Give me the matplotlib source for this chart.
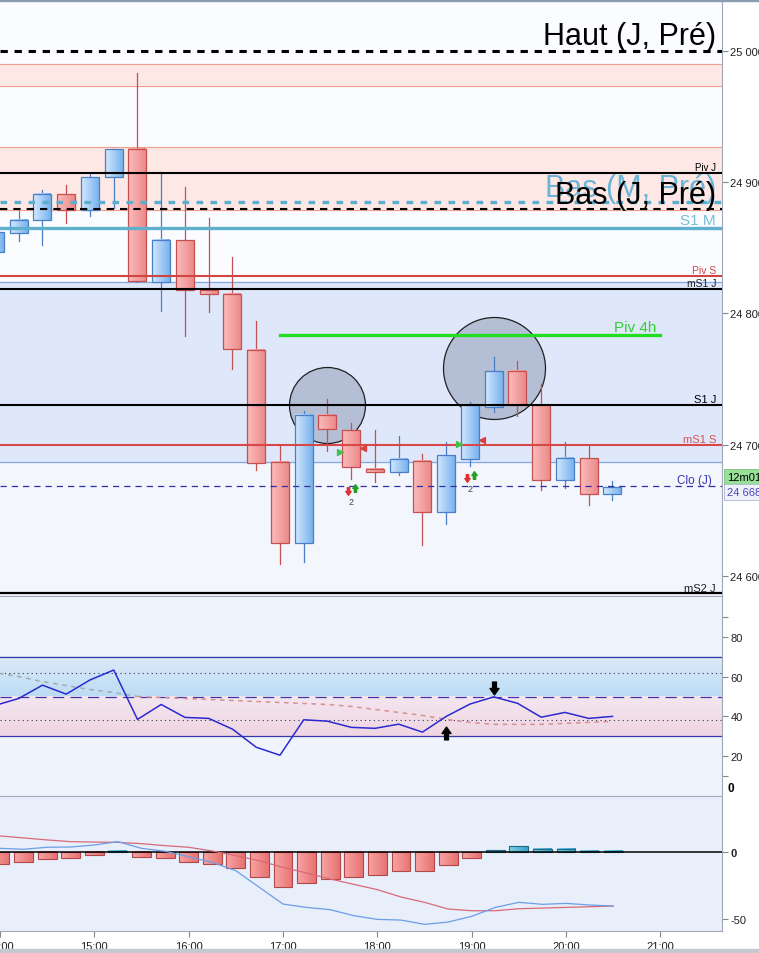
import matplotlib
matplotlib.use("Agg")
import matplotlib.pyplot as plt
import numpy as np
from matplotlib.colors import LinearSegmentedColormap
from matplotlib.patches import Rectangle
from matplotlib.path import Path

plt.rcParams['font.family'] = ['Liberation Sans', 'DejaVu Sans']

# ---- data ----
bar_times = ['14:00', '14:15', '14:30', '14:45', '15:00', '15:15', '15:30', '15:45',
             '16:00', '16:15', '16:30', '16:45', '17:00', '17:15', '17:30', '17:45',
             '18:00', '18:15', '18:30', '18:45', '19:00', '19:15', '19:30', '19:45',
             '20:00', '20:15', '20:30']
opens = [24847, 24861, 24871, 24891, 24879, 24904, 24925, 24824, 24856, 24818, 24815, 24772,
         24687, 24625, 24723, 24711, 24682, 24679, 24688, 24649, 24689, 24729, 24756, 24730,
         24673, 24690, 24663]
highs = [24866, 24878, 24894, 24898, 24906, 24925, 24983, 24908, 24896, 24873, 24843, 24794,
         24700, 24726, 24735, 24717, 24711, 24707, 24693, 24702, 24733, 24767, 24764, 24746,
         24702, 24700, 24672.5]
lows = [24842, 24855, 24852, 24869, 24874, 24880, 24824, 24802, 24783, 24801, 24758, 24681,
        24609, 24611, 24695, 24674, 24672, 24677, 24624, 24640, 24684, 24725, 24722, 24666,
        24667, 24654, 24658]
closes = [24862, 24871, 24891, 24879, 24904, 24925, 24824.5, 24856, 24818, 24815, 24773, 24686,
          24625, 24723, 24712, 24683, 24679, 24689, 24649, 24692, 24730, 24756, 24730, 24673,
          24690, 24663, 24668]

rsi = [45.5, 49, 55.7, 51.2, 58.3, 63.3, 38.5, 46, 39.5, 39, 33.6, 24.5, 20.5, 38.3, 37.6,
       34.5, 34, 36.1, 32.1, 40, 46.2, 49.8, 46.6, 39.6, 42, 39, 40]
rsi_avg = [62, 60, 57.5, 55.5, 53.5, 52, 50, 49.5, 49, 48.5, 48, 47.5, 47, 46.5, 46, 45,
           43.5, 42, 40.5, 38.5, 37, 36, 36, 36, 36.5, 37, 37.5]

macd_hist = [-8.8, -7.5, -5.3, -4.5, -2.3, 0.8, -3.8, -4.5, -7.5, -9, -12, -18.8, -26.3,
             -23.3, -20.3, -18.8, -17.3, -14.3, -14.3, -9.8, -4.5, 1.5, 4.5, 2.3, 2.3, 0.8, 0.8]
macd_line = [3.0, 2.3, 3.8, 4, 5.5, 8, 3, 0.8, -3.3, -7.5, -13.8, -26.3, -38.8, -41.3, -43,
             -47.5, -50.3, -50.8, -54, -52.3, -48, -41.3, -37.5, -39, -38.3, -39.5, -40.3]
macd_signal = [12.3, 10.8, 9.3, 8, 7.7, 7.5, 6.5, 5, 3.8, 1, -2.5, -6.3, -11.3, -15.5, -20,
               -24, -28, -33.5, -37.5, -42.5, -43.8, -43.8, -42.3, -41.8, -41.3, -40.8, -40.3]

# horizontal levels
haut_j = 25000
piv_j = 24907
bas_m = 24885
bas_j = 24879.3
s1_m = 24865.3
piv_s = 24828.3
ms1_j = 24819
piv_4h = 24783.4
s1_j = 24730.6
ms1_s = 24700.2
clo_j = 24668.5
ms2_j = 24587.3
pink_zones = [(24972.9, 24989.6), (24878.5, 24926.5)]
blue_zone = (24686.8, 24823.7)
piv_4h_span = ('17:00', '21:00')

circles = [('17:30', 24730.4, 76), ('19:15', 24758.5, 102)]   # time, price, diameter px
rsi_down = ('19:15', 54.3)
rsi_up = ('18:45', 31.5)

price_ticks = [24600, 24700, 24800, 24900, 25000]
hour_ticks = ['14:00', '15:00', '16:00', '17:00', '18:00', '19:00', '20:00', '21:00']


def hours(t):
    h, m = t.split(':')
    return int(h) + int(m) / 60.0


x = np.array([hours(t) for t in bar_times])
W, H = 759, 954
XL = (14.053, 21.653)

fig = plt.figure(figsize=(W / 100, H / 100), dpi=100)
fig.patch.set_facecolor('white')


def px_axes(top, bottom, right=722):
    return fig.add_axes([0, 1 - bottom / H, right / W, (bottom - top) / H])


def grad(ax, x0, x1, y0, y1, c0, c1, vertical=False, z=3):
    cmap = LinearSegmentedColormap.from_list('g', [c0, c1])
    g = np.linspace(0, 1, 64)
    arr = g.reshape(-1, 1) if vertical else g.reshape(1, -1)
    ax.imshow(arr, extent=[x0, x1, y0, y1], aspect='auto', cmap=cmap, origin='lower',
              zorder=z, interpolation='bilinear')


def style(ax):
    for s in ['left', 'top']:
        ax.spines[s].set_visible(False)
    for s in ['right', 'bottom']:
        ax.spines[s].set_color('#a0a8b8')
    ax.yaxis.tick_right()
    ax.tick_params(axis='y', colors='#808890', labelcolor='#202020', length=4, pad=2,
                   labelsize=8)
    ax.set_xlim(*XL)


down_arrow = Path([(-0.3, 1), (0.3, 1), (0.3, 0), (0.7, 0), (0, -1), (-0.7, 0), (-0.3, 0), (-0.3, 1)],
                  [Path.MOVETO] + [Path.LINETO] * 6 + [Path.CLOSEPOLY])
up_arrow = Path(down_arrow.vertices * np.array([1, -1]), down_arrow.codes)

# ---- price panel ----
ax = px_axes(2, 597)
ax.set_facecolor('#fbfcff')
style(ax)
ax.set_xticks([])
ax.axhspan(24000, blue_zone[0], color='#f3f6fd', zorder=0)
ax.axhspan(*blue_zone, color='#dfe8fb', zorder=0)
for lo, hi in pink_zones:
    ax.axhspan(lo, hi, color='#fde8e5', zorder=0.5)
    ax.axhline(lo, color='#f0a090', lw=0.8, zorder=0.6)
    ax.axhline(hi, color='#f0a090', lw=0.8, zorder=0.6)
for yb in blue_zone:
    ax.axhline(yb, color='#84a8e0', lw=0.9, zorder=1)

for t, p, d in circles:
    ax.scatter([hours(t)], [p], s=(d * 0.72) ** 2, facecolor=(0.52, 0.57, 0.67, 0.48),
               edgecolor='#202020', lw=0.9, zorder=2)

bw = 0.189
for xi, o, h, l, c in zip(x, opens, highs, lows, closes):
    up = c >= o
    ec = '#4a7ec6' if up else '#c45050'
    lo, hi = min(o, c), max(o, c)
    ax.plot([xi, xi], [l, h], color=ec, lw=0.9, zorder=3)
    if up:
        grad(ax, xi - bw / 2, xi + bw / 2, lo, hi, '#d4e9fd', '#78b2ee', z=3.1)
    else:
        grad(ax, xi - bw / 2, xi + bw / 2, lo, hi, '#fbbcbc', '#ec8a8a', z=3.1)
    ax.add_patch(Rectangle((xi - bw / 2, lo), bw, hi - lo, fill=False, ec=ec, lw=0.9, zorder=3.2))

ax.axhline(haut_j, color='black', lw=2.2, ls=(0, (2.4, 2.2)), zorder=4)
ax.axhline(piv_j, color='black', lw=1.5, zorder=4)
ax.axhline(bas_m, color='#5aaed0', lw=2.4, ls=(0, (2.0, 2.2)), zorder=4)
ax.axhline(bas_j, color='black', lw=1.5, ls=(0, (3.5, 2.9)), zorder=4)
ax.axhline(s1_m, color='#5fb0cc', lw=2.4, zorder=4)
ax.axhline(piv_s, color='#d04444', lw=1.5, zorder=4)
ax.axhline(ms1_j, color='black', lw=1.5, zorder=4)
ax.plot([hours(piv_4h_span[0]), hours(piv_4h_span[1])], [piv_4h, piv_4h], color='#22dd22',
        lw=2.4, zorder=4)
ax.axhline(s1_j, color='black', lw=1.5, zorder=4)
ax.axhline(ms1_s, color='#d84848', lw=1.5, zorder=4)
ax.axhline(clo_j, color='#3030a0', lw=0.9, ls=(0, (5, 4)), zorder=4)
ax.axhline(ms2_j, color='black', lw=1.6, zorder=4)

# signal markers near bars
for t, yp in [('17:45', 24695.5), ('19:00', 24701.5)]:
    xt = hours(t)
    ax.scatter([xt - 0.115], [yp - 1], marker='>', s=18, color='#48c048', zorder=5)
    ax.scatter([xt + 0.125], [yp + 2.5], marker='<', s=18, color='#d84040', zorder=5)
for t, yp in [('17:45', 24666), ('19:00', 24676)]:
    xt = hours(t)
    ax.scatter([xt - 0.03], [yp - 1], marker=down_arrow, s=30, color='#e03030', zorder=5)
    ax.scatter([xt + 0.04], [yp + 1], marker=up_arrow, s=30, color='#20a020', zorder=5)
    ax.text(xt, yp - 9, '2', fontsize=6.5, color='#404040', ha='center', va='center', zorder=5)

tr = ax.get_yaxis_transform()


def lab(text, y, dy_px, size, color, xr=0.9917, z=6):
    ax.annotate(text, xy=(xr, y), xycoords=tr, xytext=(0, dy_px * 0.72),
                textcoords='offset points', ha='right', va='baseline', fontsize=size,
                color=color, zorder=z)


lab('Haut (J, Pré)', haut_j, 6.7, 22, 'black')
lab('Piv J', piv_j, 3, 7, 'black')
lab('Bas (M, Pré)', bas_m, 6, 22, '#6ab4d6', z=5)
lab('Bas (J, Pré)', bas_j, 6.3, 22, 'black')
lab('S1 M', s1_m, 3.7, 11, '#78bcd8')
lab('Piv S', piv_s, 3.3, 7.5, '#d04848')
lab('mS1 J', ms1_j, 2.4, 7.5, '#202020')
lab('Piv 4h', piv_4h, 4, 11, '#30d030', xr=656 / 722)
lab('S1 J', s1_j, 3, 8, 'black')
lab('mS1 S', ms1_s, 2.4, 8, '#d85050')
lab('Clo (J)', clo_j, 3.3, 8.5, '#3838b0', xr=711.7 / 722)
lab('mS2 J', ms2_j, 1.7, 8, '#202020')

ax.set_yticks(price_ticks)
ax.set_yticklabels([f'{p // 1000} {p % 1000:03d}' for p in price_ticks])
ax.set_ylim(24585, 25037.8)

fig.text(727 / W, 1 - 478 / H, '12m01', fontsize=8, color='black', va='center', ha='left',
         bbox=dict(boxstyle='square,pad=0.25', fc='#98e098', ec='#78c078', lw=0.6))
fig.text(727 / W, 1 - 493 / H, '24 668', fontsize=8, color='#4848c0', va='center', ha='left',
         bbox=dict(boxstyle='square,pad=0.25', fc='#eef0fa', ec='#b0b8d0', lw=0.6))

# ---- RSI panel ----
ar = px_axes(598, 797)
ar.set_facecolor('#eef3fc')
style(ar)
ar.set_xticks([])
grad(ar, XL[0], XL[1], 50, 70, '#bcdcf4', '#dcebf9', vertical=True, z=0.5)
grad(ar, XL[0], XL[1], 30, 50, '#f0d6e2', '#f3e6f0', vertical=True, z=0.5)
ar.axhline(70, color='#3838a8', lw=0.9, zorder=1)
ar.axhline(30, color='#3838a8', lw=0.9, zorder=1)
ar.axhline(50, color='#3838a8', lw=0.9, ls=(0, (9, 5)), zorder=1)
ar.axhline(62, color='#303050', lw=0.8, ls=(0, (1, 3)), zorder=1)
ar.axhline(38, color='#303050', lw=0.8, ls=(0, (1, 3)), zorder=1)
split = bar_times.index('15:30')
ar.plot(x[:split + 1], rsi_avg[:split + 1], color='#a8a8b0', lw=1.1, ls=(0, (3, 3)), zorder=2)
ar.plot(x[split:], rsi_avg[split:], color='#d89090', lw=1.1, ls=(0, (3, 3)), zorder=2)
ar.plot(x, rsi, color='#2a2ad0', lw=1.1, zorder=3)
ar.scatter([hours(rsi_down[0])], [rsi_down[1]], marker=down_arrow, s=85, color='black', zorder=4)
ar.scatter([hours(rsi_up[0])], [rsi_up[1]], marker=up_arrow, s=85, color='black', zorder=4)
ar.set_yticks([10, 20, 40, 60, 80, 90])
ar.set_yticklabels(['', '20', '40', '60', '80', ''])
ar.text(1.0 + 6 / 722, 4, '0', transform=ar.get_yaxis_transform(), fontsize=8.5,
        fontweight='bold', va='center', ha='left')
ar.set_ylim(0, 100)

# ---- MACD panel ----
am = px_axes(798, 932)
am.set_facecolor('#e8eefa')
style(am)
hw = 0.2
for xi, v in zip(x, macd_hist):
    if v >= 0:
        grad(am, xi - hw / 2, xi + hw / 2, 0, v, '#7cd0e6', '#36a2c8', z=2)
        ec = '#1e6a88'
    else:
        grad(am, xi - hw / 2, xi + hw / 2, v, 0, '#f8a4a4', '#e87272', z=2)
        ec = '#b04848'
    am.add_patch(Rectangle((xi - hw / 2, min(0, v)), hw, abs(v), fill=False, ec=ec, lw=0.8,
                           zorder=2.2))
am.axhline(0, color='black', lw=1.1, zorder=3)
am.plot(x, macd_signal, color='#d86a78', lw=0.9, zorder=4)
am.plot(x, macd_line, color='#6c9ee8', lw=0.9, zorder=4)
am.set_yticks([-50, 0])
am.set_yticklabels(['-50', '0'])
am.get_yticklabels()[1].set_fontweight('bold')
am.set_ylim(-59, 41.5)
am.set_xlim(*XL)
am.set_xticks([hours(t) for t in hour_ticks])
am.set_xticklabels(hour_ticks)
am.tick_params(axis='x', colors='#808890', labelcolor='#202020', length=4, pad=3, labelsize=8)

fig.patches.append(Rectangle((0, 1 - 2 / H), 1, 2 / H, transform=fig.transFigure,
                             color='#8a9cb0', zorder=10))
fig.patches.append(Rectangle((0, 0), 1, 4 / H, transform=fig.transFigure,
                             color='#c4c8d0', zorder=10))

fig.savefig('out.png', dpi=100)
